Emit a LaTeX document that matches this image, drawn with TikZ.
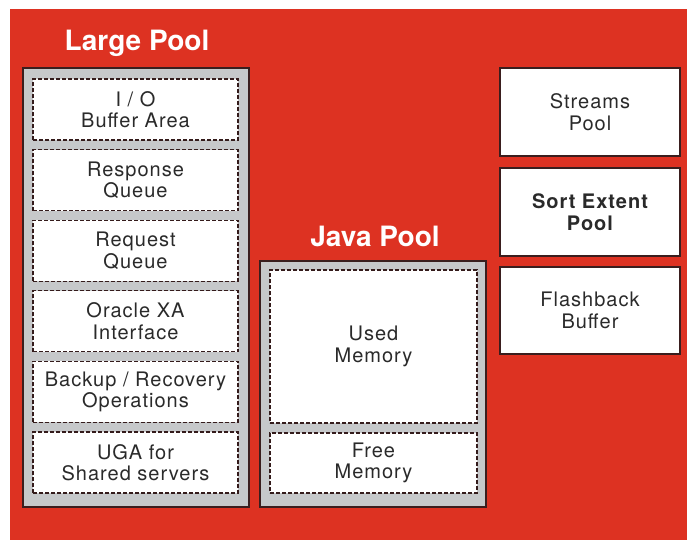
\documentclass[tikz,border=0pt]{standalone}
\usepackage{fontspec}
\setmainfont{TeX Gyre Heros}
\newfontfamily\bodyfont[LetterSpace=5]{TeX Gyre Heros}
\definecolor{poolred}{HTML}{DD3222}
\definecolor{poolgray}{HTML}{C6C8CA}
\definecolor{edgedark}{HTML}{3A1E1E}
\definecolor{textgray}{HTML}{2A2A2A}

\tikzset{
  pool/.style={draw=edgedark, line width=2pt, fill=poolgray, inner sep=0pt},
  area/.style={draw=edgedark!90!black, line width=1.2pt, dash pattern=on 4pt off 2pt,
    fill=white, inner sep=0pt, align=center, text=textgray,
    font=\bodyfont\fontsize{20}{21.5}\selectfont},
  largearea/.style={area, minimum width=205pt, minimum height=61pt},
  sidebox/.style={draw=edgedark, line width=2.4pt, fill=white, inner sep=0pt,
    minimum width=180pt, minimum height=88pt, align=center, text=textgray,
    font=\bodyfont\fontsize{20}{21.5}\selectfont},
  pooltitle/.style={text=white, font=\bfseries\fontsize{28}{30}\selectfont, inner sep=0pt}
}

\begin{document}
\begin{tikzpicture}[x=1pt, y=-1pt]
\useasboundingbox (0,0) rectangle (687,540);
\fill[poolred] (10,9) rectangle (687,540);

% Large Pool
\node[pooltitle] (largetitle) at (137,43) {Large Pool};
\node[pool, minimum width=226pt, minimum height=439pt] (large) at (136,287.5) {};
\node[largearea] (io)   at (135.5,109.5) {I / O\\Buffer Area};
\node[largearea] (resp) at (135.5,180.1) {Response\\Queue};
\node[largearea] (req)  at (135.5,250.7) {Request\\Queue};
\node[largearea] (xa)   at (135.5,321.3) {Oracle XA\\Interface};
\node[largearea] (bkp)  at (135.5,391.9) {Backup / Recovery\\Operations};
\node[largearea] (uga)  at (135.5,462.5) {UGA for\\Shared servers};

% Java Pool
\node[pooltitle] (javatitle) at (375,236) {Java Pool};
\node[pool, minimum width=226pt, minimum height=246pt] (java) at (373,384) {};
\node[area, minimum width=207pt, minimum height=153pt] (used) at (373.5,346.5) {Used\\Memory};
\node[area, minimum width=207pt, minimum height=60pt] (free) at (373.5,463) {Free\\Memory};

% Separate pools on the right
\node[sidebox] (streams) at (590,112) {Streams\\Pool};
\node[sidebox] (sort) at (590,212) {\bfseries Sort Extent\\\bfseries Pool};
\node[sidebox, minimum height=87pt] (flash) at (590,310.5) {Flashback\\Buffer};
\end{tikzpicture}
\end{document}
